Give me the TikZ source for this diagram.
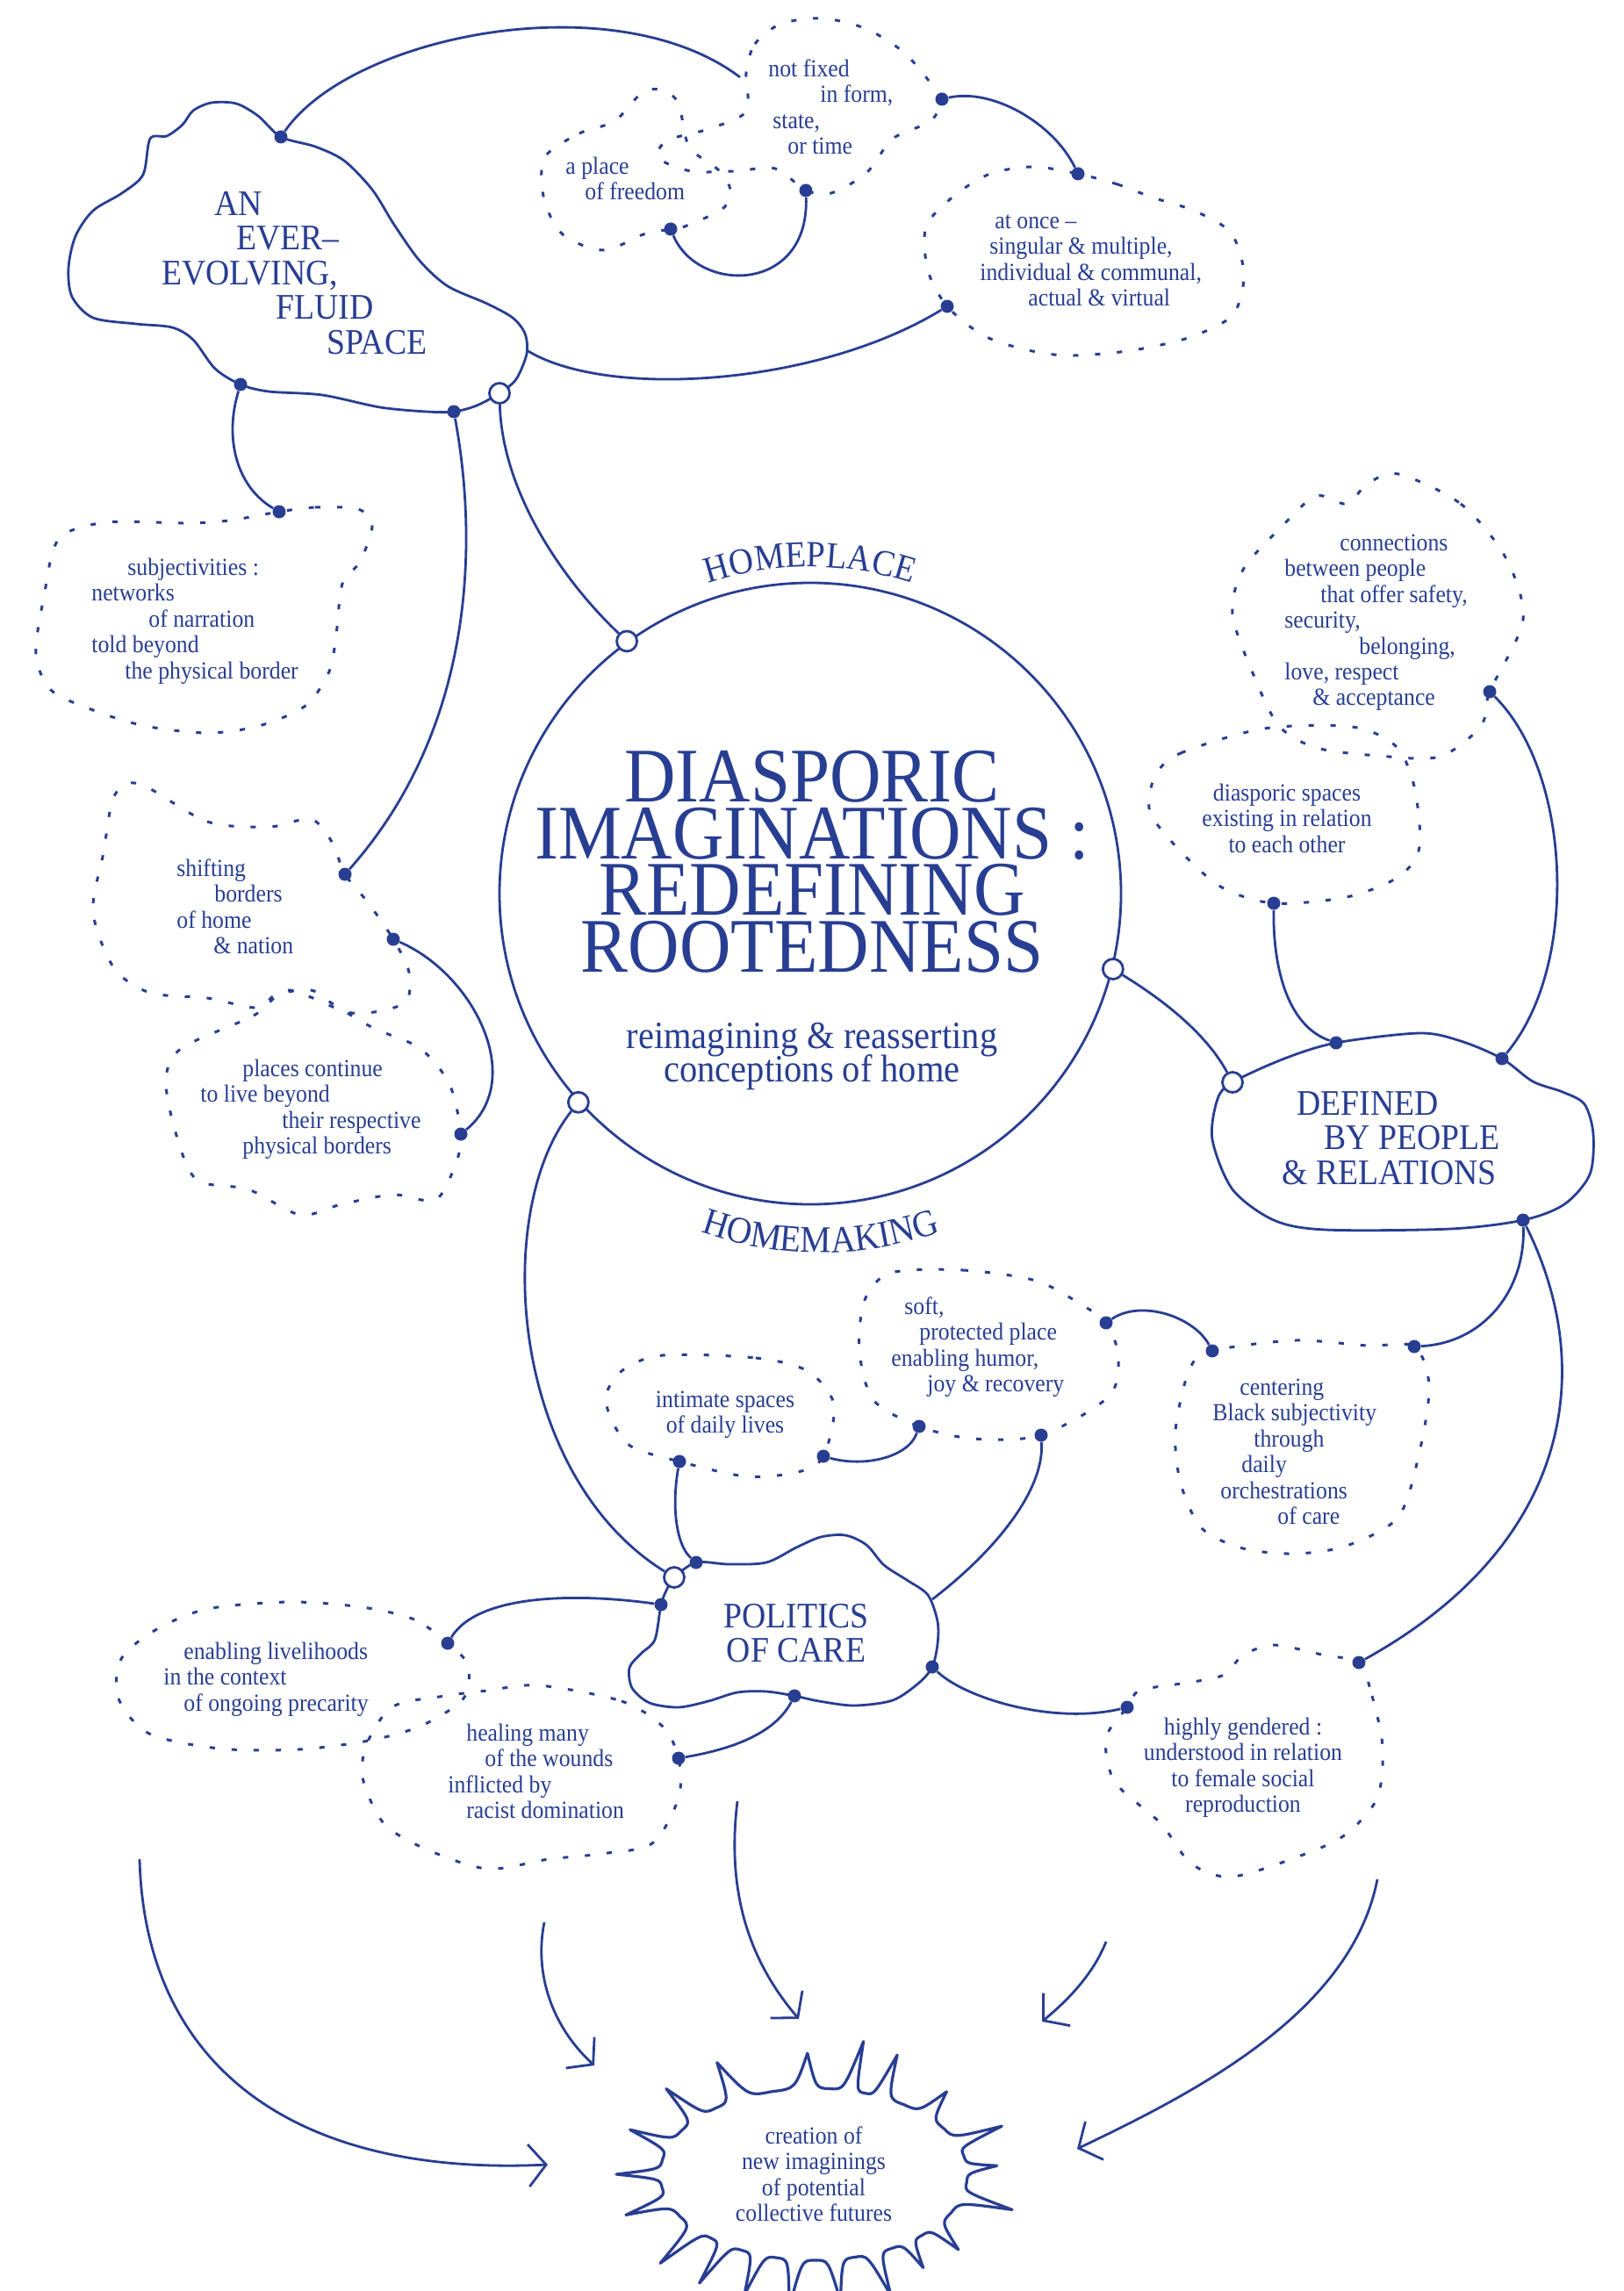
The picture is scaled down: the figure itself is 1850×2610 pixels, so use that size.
\documentclass[tikz,border=0pt]{standalone}
\usepackage{fontspec}
\setmainfont[FakeStretch=0.92]{Liberation Serif}
\usetikzlibrary{arrows.meta,decorations.text}

\definecolor{ink}{RGB}{40,62,146}
\newcommand\smalltxt{\fontsize{14}{14.7}\selectfont}
\newcommand\midtxt{\fontsize{20.5}{19.75}\selectfont\lineskiplimit=-20pt}
\newcommand\subtxt{\fontsize{22}{19}\selectfont\lineskiplimit=-20pt}
\newcommand\titletxt{\fontsize{44}{32.3}\selectfont\lineskiplimit=-20pt}
\newcommand\topstrut{\rule{0pt}{\baselineskip}}

\tikzset{
  link/.style={draw=ink, line width=1.4pt},
  flow/.style={link, -{Straight Barb[length=10pt,width=24pt]}},
  solidcloud/.style={draw=ink, line width=1.4pt},
  dotcloud/.style={draw=ink, line width=1.5pt, dash pattern=on 3pt off 9.5pt},
  starline/.style={draw=ink, line width=1.6pt, line join=round},
  dot/.style={circle, fill=ink, inner sep=0pt, minimum size=7.5pt},
  hole/.style={circle, draw=ink, fill=white, line width=1.4pt, inner sep=0pt, minimum size=11.5pt},
  txt/.style={text=ink, font=\smalltxt, align=left, inner sep=0pt, anchor=north west},
  ctxt/.style={txt, align=center, anchor=north},
  bigtxt/.style={txt, font=\midtxt},
}

\begin{document}
\begin{tikzpicture}[x=0.5pt, y=-0.5pt]
  \fill[white] (0,0) rectangle (1850,2610);
  \useasboundingbox (0,0) rectangle (1850,2610);

  % clouds
  \draw[solidcloud] plot[smooth cycle] coordinates {(171,158) (163,199) (139,220) (106,240) (86,269) (78,305) (82,338) (106,362) (155,369) (196,373) (220,387) (245,420) (274,438) (306,446) (367,450) (433,464) (486,469) (517,469) (543,462) (569,448) (588,432) (600,403) (598,380) (584,362) (555,346) (510,326) (478,297) (449,256) (424,216) (392,183) (359,167) (320,156) (294,132) (269,118) (241,117) (220,126) (208,142) (190,155)};
  \draw[dotcloud] plot[smooth cycle] coordinates {(850,83) (860,50) (890,27) (938,21) (987,33) (1030,60) (1062,97) (1073,113) (1060,138) (1017,158) (987,197) (947,220) (918,217) (883,192) (837,195) (787,195) (750,180) (760,160) (807,147) (850,127)};
  \draw[dotcloud] plot[smooth cycle] coordinates {(620,180) (660,152) (700,138) (732,105) (755,103) (773,118) (785,167) (820,195) (832,217) (823,238) (780,258) (764,261) (733,267) (688,285) (642,268) (620,228)};
  \draw[dotcloud] plot[smooth cycle] coordinates {(1228,198) (1273,210) (1313,225) (1360,240) (1402,265) (1417,312) (1405,358) (1362,382) (1313,395) (1267,402) (1213,405) (1167,398) (1120,382) (1079,349) (1057,308) (1055,258) (1087,223) (1128,198) (1177,190)};
  \draw[dotcloud] plot[smooth cycle] coordinates {(318,583) (359,578) (408,580) (424,599) (410,640) (390,665) (383,723) (375,765) (348,804) (295,827) (236,835) (165,827) (106,809) (58,786) (41,745) (50,680) (67,614) (122,595) (212,596) (261,593)};
  \draw[dotcloud] plot[smooth cycle] coordinates {(159,893) (236,936) (307,942) (354,933) (378,959) (393,996) (419,1028) (448,1070) (466,1108) (460,1143) (401,1154) (330,1128) (295,1148) (236,1137) (171,1131) (130,1103) (106,1039) (118,971) (130,907)};
  \draw[dotcloud] plot[smooth cycle] coordinates {(207,1194) (289,1157) (313,1134) (354,1128) (378,1143) (425,1171) (478,1194) (512,1235) (525,1292) (519,1326) (496,1367) (448,1361) (389,1372) (342,1384) (283,1355) (224,1344) (200,1290) (189,1230)};
  \draw[dotcloud] plot[smooth cycle] coordinates {(1593,540) (1664,574) (1715,635) (1735,706) (1697,788) (1687,827) (1640,862) (1570,861) (1500,852) (1457,827) (1428,769) (1404,700) (1416,649) (1460,600) (1499,565) (1534,574) (1558,551)};
  \draw[dotcloud] plot[smooth cycle] coordinates {(1316,884) (1345,858) (1440,830) (1540,828) (1590,850) (1611,896) (1617,965) (1593,999) (1534,1022) (1451,1029) (1392,1011) (1345,970) (1310,925)};
  \draw[solidcloud] plot[smooth cycle] coordinates {(1404,1233) (1463,1206) (1522,1188) (1617,1177) (1664,1186) (1711,1206) (1746,1232) (1780,1244) (1805,1258) (1815,1292) (1811,1338) (1782,1372) (1735,1390) (1652,1400) (1510,1401) (1451,1390) (1404,1355) (1381,1298) (1387,1252)};
  \draw[dotcloud] plot[smooth cycle] coordinates {(755,1544) (861,1547) (920,1562) (950,1600) (938,1659) (909,1677) (850,1682) (774,1665) (715,1645) (690,1596) (708,1562)};
  \draw[dotcloud] plot[smooth cycle] coordinates {(1015,1450) (1097,1447) (1180,1459) (1233,1487) (1260,1507) (1274,1545) (1263,1591) (1186,1635) (1109,1639) (1047,1625) (995,1595) (979,1539) (985,1481)};
  \draw[dotcloud] plot[smooth cycle] coordinates {(1381,1539) (1475,1527) (1558,1533) (1611,1534) (1628,1579) (1617,1654) (1593,1728) (1534,1761) (1475,1770) (1416,1764) (1369,1741) (1345,1690) (1339,1630) (1355,1560)};
  \draw[solidcloud] plot[smooth cycle] coordinates {(768,1797) (793,1780) (830,1782) (873,1780) (907,1763) (935,1751) (963,1749) (987,1760) (1007,1783) (1033,1800) (1057,1817) (1068,1847) (1068,1873) (1062,1899) (1047,1917) (1017,1937) (973,1943) (933,1938) (905,1932) (873,1927) (840,1928) (807,1938) (773,1945) (740,1940) (720,1923) (717,1900) (730,1884) (746,1868) (753,1828) (760,1810)};
  \draw[dotcloud] plot[smooth cycle] coordinates {(510,1872) (472,1845) (413,1831) (330,1825) (236,1833) (177,1857) (138,1890) (135,1935) (170,1975) (250,1992) (340,1993) (420,1983) (480,1966) (528,1935) (533,1897)};
  \draw[dotcloud] plot[smooth cycle] coordinates {(614,1920) (708,1938) (755,1967) (773,2003) (773,2048) (743,2100) (684,2112) (625,2118) (555,2129) (484,2106) (437,2077) (413,2025) (419,1984) (448,1944) (507,1932) (555,1926)};
  \draw[dotcloud] plot[smooth cycle] coordinates {(1548,1894) (1563,1932) (1575,1990) (1569,2048) (1534,2089) (1487,2112) (1404,2138) (1357,2123) (1322,2077) (1270,2030) (1260,1980) (1284,1945) (1298,1926) (1345,1918) (1392,1909) (1416,1886) (1451,1874) (1510,1886)};

  % centre
  \node[circle, draw=ink, line width=1.4pt, minimum size=354pt, inner sep=0pt] (core) at (923,1018) {};
  \node[hole] (c1) at (core.126) {};
  \node[hole] (c2) at (core.-14.5) {};
  \node[hole] (c3) at (core.222.8) {};

  % dots
  \node[dot] (s1) at (320,156) {};
  \node[dot] (s2) at (274,438) {};
  \node[dot] (s3) at (517,469) {};
  \node[hole] (sh) at (569,448) {};
  \node[dot] (nf1) at (1073,113) {};
  \node[dot] (nf2) at (918,217) {};
  \node[dot] (ap) at (764,261) {};
  \node[dot] (ao1) at (1228,198) {};
  \node[dot] (ao2) at (1079,349) {};
  \node[dot] (sb) at (318,583) {};
  \node[dot] (sf1) at (393,996) {};
  \node[dot] (sf2) at (448,1070) {};
  \node[dot] (pc) at (525,1292) {};
  \node[hole] (dh) at (1404,1233) {};
  \node[dot] (d1) at (1522,1188) {};
  \node[dot] (d2) at (1711,1206) {};
  \node[dot] (d3) at (1735,1390) {};
  \node[dot] (cn) at (1697,788) {};
  \node[dot] (ds) at (1451,1029) {};
  \node[hole] (ph) at (768,1797) {};
  \node[dot] (p1) at (793,1780) {};
  \node[dot] (p2) at (753,1828) {};
  \node[dot] (p3) at (1062,1899) {};
  \node[dot] (p4) at (905,1932) {};
  \node[dot] (im1) at (774,1665) {};
  \node[dot] (im2) at (938,1659) {};
  \node[dot] (so1) at (1047,1625) {};
  \node[dot] (so2) at (1186,1635) {};
  \node[dot] (so3) at (1260,1507) {};
  \node[dot] (ce1) at (1381,1539) {};
  \node[dot] (ce2) at (1611,1534) {};
  \node[dot] (hg1) at (1548,1894) {};
  \node[dot] (hg2) at (1284,1945) {};
  \node[dot] (en) at (510,1872) {};
  \node[dot] (he) at (773,2003) {};
  \coordinate (nfe) at (843,88);
  \coordinate (se) at (600,399);
  \coordinate (pe) at (1062,1822);

  % connectors
  \draw[link] (s1) .. controls (400,40) and (700,-20) .. (nfe);
  \draw[link] (nf1) .. controls (1130,100) and (1200,140) .. (ao1);
  \draw[link] (ap) .. controls (795,335) and (922,335) .. (nf2);
  \draw[link] (se) .. controls (690,455) and (930,440) .. (ao2);
  \draw[link] (s2) .. controls (255,500) and (270,555) .. (sb);
  \draw[link] (s3) .. controls (545,620) and (540,830) .. (sf1);
  \draw[link] (sh) .. controls (572,560) and (640,660) .. (c1);
  \draw[link] (sf2) .. controls (540,1110) and (600,1230) .. (pc);
  \draw[link] (c2) .. controls (1310,1130) and (1370,1170) .. (dh);
  \draw[link] (ds) .. controls (1450,1110) and (1470,1170) .. (d1);
  \draw[link] (cn) .. controls (1790,880) and (1800,1100) .. (d2);
  \draw[link] (d3) .. controls (1738,1470) and (1690,1530) .. (ce2);
  \draw[link] (d3) .. controls (1820,1560) and (1790,1760) .. (hg1);
  \draw[link] (c3) .. controls (560,1380) and (580,1680) .. (ph);
  \draw[link] (im1) .. controls (765,1715) and (770,1760) .. (p1);
  \draw[link] (im2) .. controls (985,1672) and (1035,1660) .. (so1);
  \draw[link] (so3) .. controls (1300,1480) and (1360,1500) .. (ce1);
  \draw[link] (pe) .. controls (1130,1770) and (1190,1700) .. (so2);
  \draw[link] (p2) .. controls (660,1815) and (545,1815) .. (en);
  \draw[link] (p4) .. controls (880,1980) and (820,1995) .. (he);
  \draw[link] (p3) .. controls (1100,1935) and (1200,1965) .. (hg2);

  % texts
  \node[txt] (nftxt) at (875,57.6) {\topstrut not fixed\\\hspace*{29.5pt}in form,\\\hspace*{2.5pt}state,\\\hspace*{11pt}or time};
  \node[txt] (aptxt) at (644,168.6) {\topstrut a place\\\hspace*{11pt}of freedom};
  \node[txt] (aotxt) at (1116,230.6) {\hspace*{8.5pt}\topstrut at once –\\\hspace*{5.5pt}singular \& multiple,\\individual \& communal,\\\hspace*{27.5pt}actual \& virtual};
  \node[txt] (sbtxt) at (104,625.6) {\hspace*{20.5pt}\topstrut subjectivities :\\networks\\\hspace*{32.5pt}of narration\\told beyond\\\hspace*{19pt}the physical border};
  \node[txt] (cntxt) at (1463,597.6) {\hspace*{31.5pt}\topstrut connections\\between people\\\hspace*{20.5pt}that offer safety,\\security,\\\hspace*{42.5pt}belonging,\\love, respect\\\hspace*{16pt}\& acceptance};
  \node[ctxt] (dstxt) at (1466,882.6) {\topstrut diasporic spaces\\existing in relation\\to each other};
  \node[txt] (sftxt) at (201,968.6) {\topstrut shifting\\\hspace*{21.5pt}borders\\of home\\\hspace*{21pt}\& nation};
  \node[txt] (pltxt) at (228,1196.6) {\hspace*{24pt}\topstrut places continue\\to live beyond\\\hspace*{46.5pt}their respective\\\hspace*{24pt}physical borders};
  \node[ctxt] (imtxt) at (826,1573.6) {\topstrut intimate spaces\\of daily lives};
  \node[txt] (sotxt) at (1015,1467.6) {\hspace*{7.5pt}\topstrut soft,\\\hspace*{16pt}protected place\\enabling humor,\\\hspace*{20.5pt}joy \& recovery};
  \node[txt] (cetxt) at (1381,1559.6) {\hspace*{15.5pt}\topstrut centering\\Black subjectivity\\\hspace*{23.5pt}through\\\hspace*{16.5pt}daily\\\hspace*{4.5pt}orchestrations\\\hspace*{37pt}of care};
  \node[txt] (entxt) at (186,1860.6) {\hspace*{11.5pt}\topstrut enabling livelihoods\\in the context\\\hspace*{11.5pt}of ongoing precarity};
  \node[txt] (hetxt) at (510,1953.6) {\hspace*{10.5pt}\topstrut healing many\\\hspace*{21pt}of the wounds\\inflicted by\\\hspace*{10.5pt}racist domination};
  \node[ctxt] (hgtxt) at (1416,1946.6) {\topstrut highly gendered :\\understood in relation\\to female social\\reproduction};
  \node[bigtxt] (spacetxt) at (184,205.5) {\hspace*{30pt}\topstrut AN\\\hspace*{42.5pt}EVER–\\EVOLVING,\\\hspace*{65pt}FLUID\\\hspace*{94pt}SPACE};
  \node[bigtxt] (deftxt) at (1460,1230.5) {\hspace*{8.5pt}\topstrut DEFINED\\\hspace*{24pt}BY PEOPLE\\\& RELATIONS};
  \node[bigtxt, align=center, anchor=north] (poltxt) at (907,1814.5) {\topstrut POLITICS\\OF CARE};
  \node[ctxt, font=\titletxt] (title) at (925,848.4) {\topstrut DIASPORIC\\IMAGINATIONS :\\REDEFINING\\ROOTEDNESS};
  \node[ctxt, font=\subtxt] (subtitle) at (925,1156) {\topstrut reimagining \& reasserting\\conceptions of home};
  \path[decorate, decoration={text along path, text align=center, text={|\fontsize{21}{21}\selectfont\color{ink}|HOMEPLACE}}]
    (683.9,733) .. controls (822.2,616.9) and (1023.8,616.9) .. (1162.1,733);
  \path[decorate, decoration={text along path, text align=center, text={|\fontsize{21.5}{21}\selectfont\color{ink}|HOMEMAKING}}]
    (672,1331.3) .. controls (824,1458.9) and (1045.9,1458.9) .. (1197.9,1331.3);

  % futures
  \begin{scope}[shift={(927,2477)}]
    \draw[starline] (5.5:175 and 98)
      \foreach \va/\vt/\vb/\vs in {5.5/15/26.5/1.04, 26.5/38/45/0.93, 45/52/59.5/0.9, 59.5/67/74.5/1.0, 74.5/82/89.5/0.97, 89.5/97/104/1.02, 104/111/118/0.98, 118/125/132/1.01, 132/139/150.5/1.03, 150.5/162/171/1.0, 171/180/190/1.0, 190/200/210.5/0.99, 210.5/221/230.5/0.99, 230.5/240/254/0.98, 254/268/276/0.92, 276/284/289.5/1.04, 289.5/295/306/1.0, 306/317/328/0.92, 328/339/347.5/1.02, 347.5/356/365.5/0.93} {
        .. controls ({\vt-0.35*(\vt-\va)}:175 and 98) .. (\vt:{225*\vs} and {150*\vs})
        .. controls ({\vt+0.35*(\vb-\vt)}:175 and 98) .. (\vb:175 and 98)
      } -- cycle;
  \end{scope}
  \node[ctxt] (futures) at (927,2412.6) {\topstrut creation of\\new imaginings\\of potential\\collective futures};

  \coordinate (f1a) at (159,2118);  \coordinate (f1b) at (624,2466);
  \coordinate (f2a) at (620,2190);  \coordinate (f2b) at (677,2353);
  \coordinate (f3a) at (840,2052);  \coordinate (f3b) at (910,2300);
  \coordinate (f4a) at (1260,2212); \coordinate (f4b) at (1187,2303);
  \coordinate (f5a) at (1569,2141); \coordinate (f5b) at (1227,2448);
  \draw[flow] (f1a) .. controls (165,2350) and (330,2480) .. (f1b);
  \draw[flow] (f2a) .. controls (608,2250) and (630,2310) .. (f2b);
  \draw[flow] (f3a) .. controls (828,2150) and (850,2230) .. (f3b);
  \draw[flow] (f4a) .. controls (1245,2250) and (1215,2280) .. (f4b);
  \draw[flow] (f5a) .. controls (1540,2290) and (1370,2380) .. (f5b);
\end{tikzpicture}
\end{document}
